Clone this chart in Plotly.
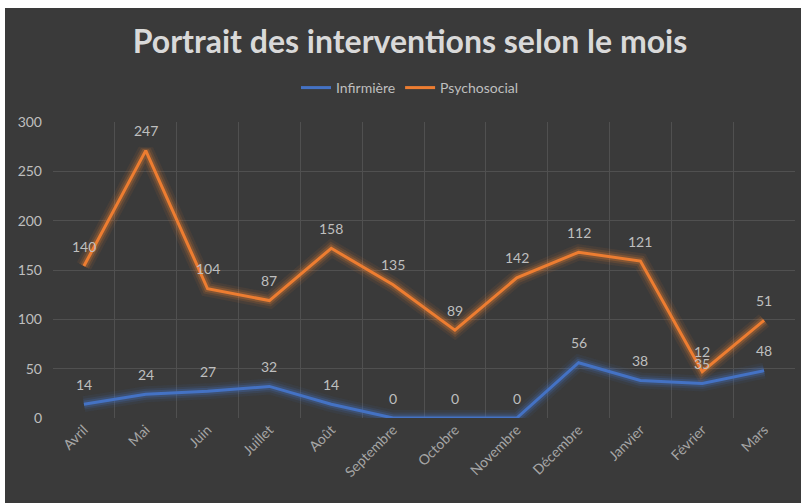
import numpy as np
import plotly.graph_objects as go

months = ["Avril", "Mai", "Juin", "Juillet", "Août", "Septembre", "Octobre",
          "Novembre", "Décembre", "Janvier", "Février", "Mars"]
infirmiere = [14, 24, 27, 32, 14, 0, 0, 0, 56, 38, 35, 48]
psychosocial = [140, 247, 104, 87, 158, 135, 89, 142, 112, 121, 12, 51]

# page offset (body margin) : top 8px, left 5px
OX, OY = 5, 8
W, H = 801 - OX, 503 - OY
L, R, T, B = 48, 6, 114, 85

blue = "#4472C4"
orange = "#ED7D31"
bg = "#3a3a3a"
font = "Lato"
label_col = "#bfbfbf"

inf = np.array(infirmiere)
psy_stack = inf + np.array(psychosocial)  # stacked line chart

fig = go.Figure()

# glow layers
for y, c in [(inf, "rgba(68,114,196,"), (psy_stack, "rgba(237,125,49,")]:
    for w, a in [(16, 0.08), (11, 0.14), (7, 0.25)]:
        fig.add_trace(go.Scatter(x=months, y=y, mode="lines",
                                 line=dict(color=c + f"{a})", width=w),
                                 showlegend=False, hoverinfo="skip"))

fig.add_trace(go.Scatter(x=months, y=inf, name="Infirmière", mode="lines",
                         line=dict(color=blue, width=3)))
fig.add_trace(go.Scatter(x=months, y=psy_stack, name="Psychosocial", mode="lines",
                         line=dict(color=orange, width=3)))

annotations = []
for xs, ys, vals in [(months, inf, infirmiere), (months, psy_stack, psychosocial)]:
    for m, yv, v in zip(xs, ys, vals):
        annotations.append(dict(x=m, y=float(yv), text=str(v), showarrow=False,
                                yshift=20, xanchor="center", yanchor="middle",
                                font=dict(size=14, color=label_col, family=font)))

pw = W - L - R
ph = H - T - B

fig.update_layout(
    width=W, height=H,
    margin=dict(l=L, r=R, t=T, b=B),
    paper_bgcolor=bg, plot_bgcolor=bg,
    title=dict(text="<b>Portrait des interventions selon le mois</b>",
               x=(410 - OX) / W, xref="container", xanchor="center",
               y=1 - (42 - OY) / H, yanchor="middle",
               font=dict(size=32, color="#d9d9d9", family=font)),
    legend=dict(orientation="h", x=(410 - OX - L) / pw, xanchor="center",
                y=(H - B - (88 - OY)) / ph, yanchor="middle",
                font=dict(size=14, color=label_col, family=font),
                bgcolor="rgba(0,0,0,0)", itemwidth=30, tracegroupgap=0),
    annotations=annotations,
    showlegend=True,
    xaxis=dict(range=[-0.5, len(months) - 0.5], tickangle=-45, tickson="boundaries",
               showgrid=True, gridcolor="#505050",
               gridwidth=1, ticks="", showline=False, zeroline=False,
               tickfont=dict(size=14, color="#a6a6a6", family=font)),
    yaxis=dict(range=[0, 300], dtick=50, showgrid=True, gridcolor="#505050",
               zeroline=False, showline=False, ticks="", ticklabelstandoff=10,
               tickfont=dict(size=14, color=label_col, family=font)),
)

fig.write_html("out.html", post_script="document.body.style.margin='8px 0 0 5px';")
